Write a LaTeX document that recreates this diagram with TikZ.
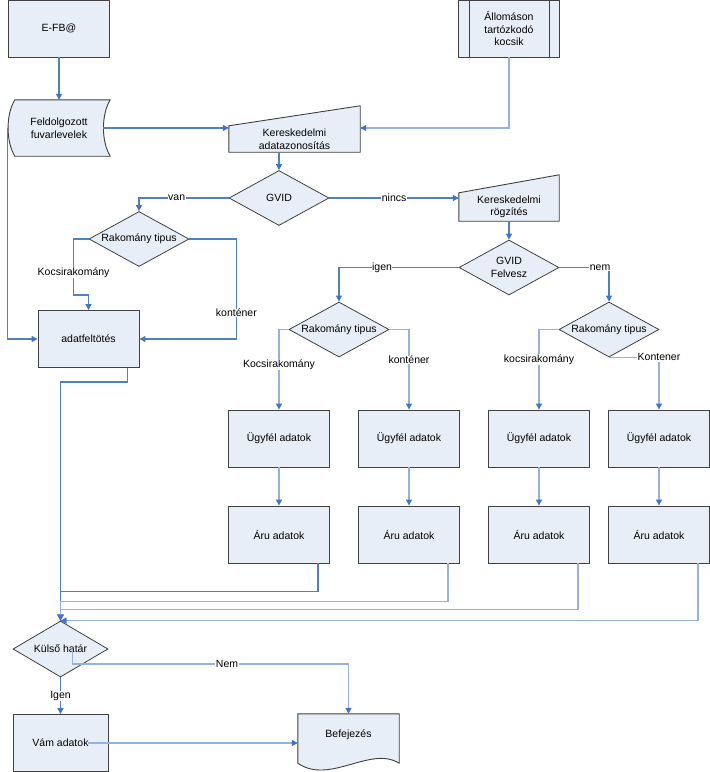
\documentclass[tikz,border=0pt]{standalone}
\usepackage{fontspec}
\setmainfont{Liberation Sans}
\usetikzlibrary{shapes.geometric,arrows.meta,calc,positioning}
\pgfdeclarelayer{bg}
\pgfsetlayers{bg,main}
\definecolor{boxfill}{RGB}{232,238,248}
\definecolor{boxline}{RGB}{64,64,64}
\definecolor{flowdark}{RGB}{79,129,189}
\definecolor{flowlight}{RGB}{149,179,215}
\definecolor{tipblue}{RGB}{68,114,196}

\begin{document}
\begin{tikzpicture}[x=1pt,y=-1pt,
    font=\fontsize{10.5}{12.5}\selectfont,
    procbox/.style={draw=boxline, line width=0.9pt, fill=boxfill, rectangle, minimum width=101pt, minimum height=57pt, align=center, inner sep=0pt},
    shapebox/.style={rectangle, minimum width=101pt, align=center, inner sep=0pt},
    outline/.style={draw=boxline, line width=0.9pt, fill=boxfill},
    decision/.style={draw=boxline, line width=0.8pt, fill=boxfill, diamond, minimum width=100pt, minimum height=55pt, inner sep=0pt},
    flow/.style={draw=flowdark, line width=1.3pt, -{Triangle[length=6pt,width=6pt,color=tipblue]}},
    flowlt/.style={flow, draw=flowlight},
    edgelbl/.style={fill=white, inner sep=0.5pt}]
    \useasboundingbox (0,0) rectangle (710,772);

    % Bemenetek
    \node[procbox] (efb) at (59,28.5) {E-FB@};
    \node[procbox] (allo) at (509,28.5) {Állomáson\\tartózkodó\\kocsik};
    \draw[boxline, line width=0.9pt] ([xshift=11pt]allo.north west) -- ([xshift=11pt]allo.south west)
        ([xshift=-11pt]allo.north east) -- ([xshift=-11pt]allo.south east);
    \node[shapebox, minimum width=102pt, minimum height=56pt] (feld) at (59,128) {Feldolgozott\\fuvarlevelek};
    \node[shapebox, minimum width=131pt, minimum height=26pt] (kadat) at (294.5,139) {Kereskedelmi\\adatazonosítás};

    % GVID ag
    \node[decision, label=center:GVID] (gvid) at (279,198) {};
    \node[shapebox, minimum width=100pt, minimum height=28pt] (krog) at (509,207) {Kereskedelmi\\rögzítés};
    \node[decision, label=center:Rakomány tipus] (rak1) at (139,239) {};
    \node[procbox] (adat) at (88.5,339) {adatfeltötés};
    \node[decision, label={[align=center]center:GVID\\Felvesz}] (gvfel) at (509,267.5) {};
    \node[decision, label=center:Rakomány tipus] (rak2) at (339,329.5) {};
    \node[decision, label=center:Rakomány tipus] (rak3) at (609,329.5) {};

    % Ugyfel es aru adatok
    \foreach \i/\x in {1/279, 2/409, 3/539, 4/659} {
        \node[procbox] (ugy\i) at (\x,438.5) {Ügyfél adatok};
        \node[procbox] (aru\i) at (\x,534.5) {Áru adatok};
        \draw[flowlt] (ugy\i) -- (aru\i);
    }

    % Vege
    \node[decision, minimum width=95pt, minimum height=56pt, label=center:Külső határ] (kulso) at (60.5,649) {};
    \node[procbox, minimum width=95pt] (vam) at (60.5,743) {Vám adatok};
    \node[shapebox, minimum height=42pt] (befej) at (348.5,735) {Befejezés};

    % Alakzatok a hatterben
    \begin{pgfonlayer}{bg}
        \draw[outline] ($(feld.north west)+(7,0)$) -- (feld.north east)
            .. controls ($(feld.north east)+(-9,15)$) and ($(feld.south east)+(-9,-15)$) .. (feld.south east)
            -- ($(feld.south west)+(7,0)$)
            .. controls ($(feld.south west)+(-2,-15)$) and ($(feld.north west)+(-2,15)$) .. ($(feld.north west)+(7,0)$) -- cycle;
        \draw[outline] (kadat.south west) -- (kadat.north west) -- ([yshift=20pt]kadat.north east) -- (kadat.south east) -- cycle;
        \draw[outline] (krog.south west) -- (krog.north west) -- ([yshift=18pt]krog.north east) -- (krog.south east) -- cycle;
        \draw[outline] (befej.north west) -- (befej.north east) -- ($(befej.south east)+(0,7)$)
            .. controls ($(befej.south east)+(-29,-11)$) and ($(befej.south west)+(32,29)$) .. ($(befej.south west)+(0,7)$) -- cycle;
    \end{pgfonlayer}

    % Kapcsolatok
    \draw[flow] (efb) -- (feld);
    \draw[flow] ($(feld.east)+(-7,0)$) -- (feld.east -| kadat.west);
    \draw[flowlt] (allo.south) |- (feld.east -| kadat.east);
    \draw[flow] (feld.west) |- (adat.west);
    \draw[flow] (kadat.south -| gvid.north) -- (gvid.north);
    \draw[flow] (gvid.west) -| (rak1.north) node[edgelbl, pos=0.29] {van};
    \draw[flow] (gvid.east) -- (gvid.east -| krog.west) node[edgelbl, midway] {nincs};
    \draw[flow] (rak1.west) -- ++(-15,0) |- ($(adat.north)+(0,-15)$) node[edgelbl, pos=0.3] {Kocsirakomány} -- (adat.north);
    \draw[flow] (rak1.east) -- ++(47,0) |- (adat.east) node[edgelbl, pos=0.37] {konténer};
    \draw[flow] (krog) -- (gvfel);
    \draw[flow] (gvfel.west) -| (rak2.north) node[edgelbl, pos=0.32] {igen};
    \draw[flow] (gvfel.east) -| (rak3.north) node[edgelbl, pos=0.41] {nem};
    \draw[flowlt] (rak2.west) -| (ugy1.north) node[edgelbl, pos=0.72] {Kocsirakomány};
    \draw[flowlt] (rak2.east) -| (ugy2.north) node[edgelbl, pos=0.69] {konténer};
    \draw[flowlt] (rak3.west) -| (ugy3.north) node[edgelbl, pos=0.69] {kocsirakomány};
    \draw[flowlt] (rak3.south) -| (ugy4.north) node[edgelbl, pos=0.5] {Kontener};

    % Gyujto vonalak
    \draw[flow] ($(adat.south east)+(-12,0)$) -- ++(0,14) -| (kulso.north);
    \draw[flow] ($(aru1.south east)+(-12,0)$) -- ++(0,28) -| (kulso.north);
    \foreach \i/\d in {2/38, 3/46} {
        \draw[flowlt] ($(aru\i.south east)+(-12,0)$) -- ++(0,\d) -| (kulso.north);
    }
    \draw[flowlt] ($(aru4.south east)+(-12,0)$) |- (kulso.north);

    \draw[flow] (kulso) -- (vam) node[edgelbl, midway] {Igen};
    \draw[flowlt] ([xshift=12pt]kulso.center) -- ++(0,15) -| (befej.north) node[edgelbl, pos=0.28] {Nem};
    \draw[flowlt] ([xshift=27pt]vam.center) -- (vam.center -| befej.west);
\end{tikzpicture}
\end{document}
